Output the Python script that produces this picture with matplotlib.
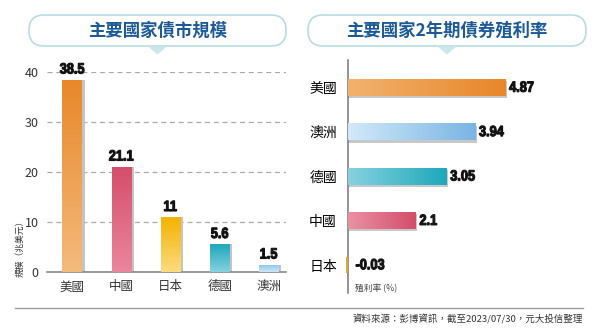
import numpy as np
import matplotlib.pyplot as plt
import matplotlib.transforms as mtransforms
from matplotlib.colors import LinearSegmentedColormap
from matplotlib.patches import FancyBboxPatch, Polygon, PathPatch
from matplotlib.textpath import TextPath
from matplotlib.font_manager import FontProperties

plt.rcParams['font.family'] = ['Noto Sans CJK TC', 'DejaVu Sans']

# bond market size (trillion USD)
size_countries = ['美國', '中國', '日本', '德國', '澳洲']
size_values = [38.5, 21.1, 11, 5.6, 1.5]
size_labels = ['38.5', '21.1', '11', '5.6', '1.5']

# 2-year government bond yield (%)
yield_countries = ['美國', '澳洲', '德國', '中國', '日本']
yield_values = [4.87, 3.94, 3.05, 2.1, -0.03]
yield_labels = ['4.87', '3.94', '3.05', '2.1', '-0.03']

# (light, dark) gradient pairs per country
colors = {
    '美國': ('#F4BA7C', '#E8882A'),
    '中國': ('#EA869D', '#D44E6B'),
    '日本': ('#FBDB7E', '#F3B300'),
    '德國': ('#86D2E0', '#1EA8BB'),
    '澳洲': ('#CDE7F8', '#8CC3EC'),
}
yield_colors = {
    '美國': ('#F2B26E', '#E8872A'),
    '澳洲': ('#D2E9F9', '#7AB5E4'),
    '德國': ('#86D1DE', '#1EA9BC'),
    '中國': ('#EA90A3', '#D44E6B'),
    '日本': ('#D8A83A', '#D8A83A'),
}
title_color = '#1C5A97'
num_prop = FontProperties(family='Liberation Sans', weight='bold')
digit_h = TextPath((0, 0), '0', size=1, prop=num_prop).get_extents().height


def fill_gradient(ax, patch, c0, c1, vertical):
    cmap = LinearSegmentedColormap.from_list('g', [c0, c1])
    if vertical:
        arr = np.linspace(0, 1, 64).reshape(-1, 1)
    else:
        arr = np.linspace(0, 1, 64).reshape(1, -1)
    x0, y0 = patch.get_x(), patch.get_y()
    x1, y1 = x0 + patch.get_width(), y0 + patch.get_height()
    im = ax.imshow(arr, cmap=cmap, origin='lower', aspect='auto',
                   extent=[min(x0, x1), max(x0, x1), min(y0, y1), max(y0, y1)],
                   interpolation='bicubic', zorder=3)
    im.set_clip_path(patch)


def num_label(ax, x, y, s, ha, va, ox=0, oy=0, px=10.5, squeeze=0.86):
    # condensed heavy number: glyph outline squeezed horizontally, px = digit height
    tp = TextPath((0, 0), s, size=1, prop=num_prop)
    bb = tp.get_extents()
    dx = -(bb.x0 + bb.x1) / 2 if ha == 'center' else -bb.x0
    dy = 0 if va == 'bottom' else -digit_h / 2
    k = px / digit_h
    tr = (mtransforms.Affine2D().translate(dx, dy).scale(k * squeeze, k)
          .translate(ox, oy) + mtransforms.ScaledTranslation(x, y, ax.transData))
    p = PathPatch(tp, transform=tr, fc='#111111', ec='#111111', lw=0.8,
                  clip_on=False, zorder=5)
    ax.add_artist(p)


fig = plt.figure(figsize=(6, 3.36), dpi=100)

# pixel-space layer for the frames, separator and notes
bg = fig.add_axes([0, 0, 1, 1])
bg.set_xlim(0, 600)
bg.set_ylim(336, 0)
bg.axis('off')

for x0, w, cx, title in [(29, 257, 157.5, '主要國家債市規模'),
                         (308, 278, 447, '主要國家2年期債券殖利率')]:
    bg.add_patch(FancyBboxPatch((x0, 15), w, 31,
                                boxstyle='round,pad=0,rounding_size=15',
                                fc='white', ec='#B8DCE3', lw=1.2))
    bg.add_patch(Polygon([(cx - 9.5, 46.5), (cx + 9.5, 46.5), (cx, 54.5)],
                         closed=True, fc='#CBE7EE', ec='none'))
    bg.text(cx, 31, title, ha='center', va='center', fontsize=12.5,
            fontweight='bold', color=title_color)

bg.plot([15, 583], [308, 308], color='#9A9A9A', lw=1)
bg.text(583, 319, '資料來源：彭博資訊，截至2023/07/30，元大投信整理',
        ha='right', va='center', fontsize=6.8, color='#333333')

# left: bond market size
ax1 = fig.add_axes([47 / 600, 1 - 272 / 336, 239 / 600, 200 / 336])
ax1.set_facecolor('none')
x = np.arange(len(size_countries))
w = 0.39
ax1.bar(x + 0.06, size_values, w, color='#C4C4C4', zorder=2)
bars = ax1.bar(x, size_values, w, color='none', zorder=3)
for b, c in zip(bars, size_countries):
    fill_gradient(ax1, b, colors[c][0], colors[c][1], vertical=True)
for xi, v, lab in zip(x, size_values, size_labels):
    num_label(ax1, xi, v, lab, 'center', 'bottom', oy=6)
ax1.set_xlim(-0.51, 4.35)
ax1.set_ylim(0, 40)
ax1.set_yticks([0, 10, 20, 30, 40])
ax1.set_xticks(x)
ax1.set_xticklabels(size_countries, fontsize=9, color='#333333')
ax1.tick_params(axis='y', length=0, pad=6, labelsize=9, labelcolor='#333333')
ax1.tick_params(axis='x', length=0, pad=6)
for t in [10, 20, 30, 40]:
    ax1.axhline(t, color='#AAAAAA', lw=0.9, ls=(0, (4, 3)), zorder=1)
for s in ['top', 'right', 'left']:
    ax1.spines[s].set_visible(False)
ax1.spines['bottom'].set_color('#888888')
ax1.spines['bottom'].set_linewidth(1.2)
bg.text(20, 246, '規模（兆美元）', rotation=90, ha='center', va='center',
        fontsize=6.3, color='#333333')

# right: 2-year yields
ax2 = fig.add_axes([344.8 / 600, 1 - 293 / 336, 239 / 600, 233 / 336])
ax2.set_facecolor('none')
y = np.arange(len(yield_countries))
h = 0.38
ax2.barh(y + 0.05, [v + 0.04 if v > 0 else v for v in yield_values], h,
         color='#C8C8C8', zorder=2)
hbars = ax2.barh(y, yield_values, h, color='none', zorder=3)
for b, c in zip(hbars, yield_countries):
    if abs(b.get_width()) < 0.1:
        b.set_facecolor(yield_colors[c][0])
        b.set_width(-0.07)
    else:
        fill_gradient(ax2, b, yield_colors[c][0], yield_colors[c][1], vertical=False)
for yi, v, lab in zip(y, yield_values, yield_labels):
    num_label(ax2, max(v, 0), yi, lab, 'left', 'center',
              ox=4 if v > 0 else 8, oy=1)
ax2.set_xlim(-0.1, 7.3)
ax2.set_ylim(4.63, -0.62)
ax2.set_yticks(y)
ax2.set_yticklabels(yield_countries, fontsize=9, color='#333333')
ax2.set_xticks([])
ax2.tick_params(axis='y', length=0, pad=8)
for s in ['top', 'right', 'bottom']:
    ax2.spines[s].set_visible(False)
ax2.spines['left'].set_position(('data', 0))
ax2.spines['left'].set_color('#777777')
ax2.spines['left'].set_linewidth(1.1)
ax2.text(0.22, 4.54, '殖利率 (%)', ha='left', va='center', fontsize=6.3,
         color='#444444')

fig.savefig('out.png', dpi=100)
plt.close(fig)
